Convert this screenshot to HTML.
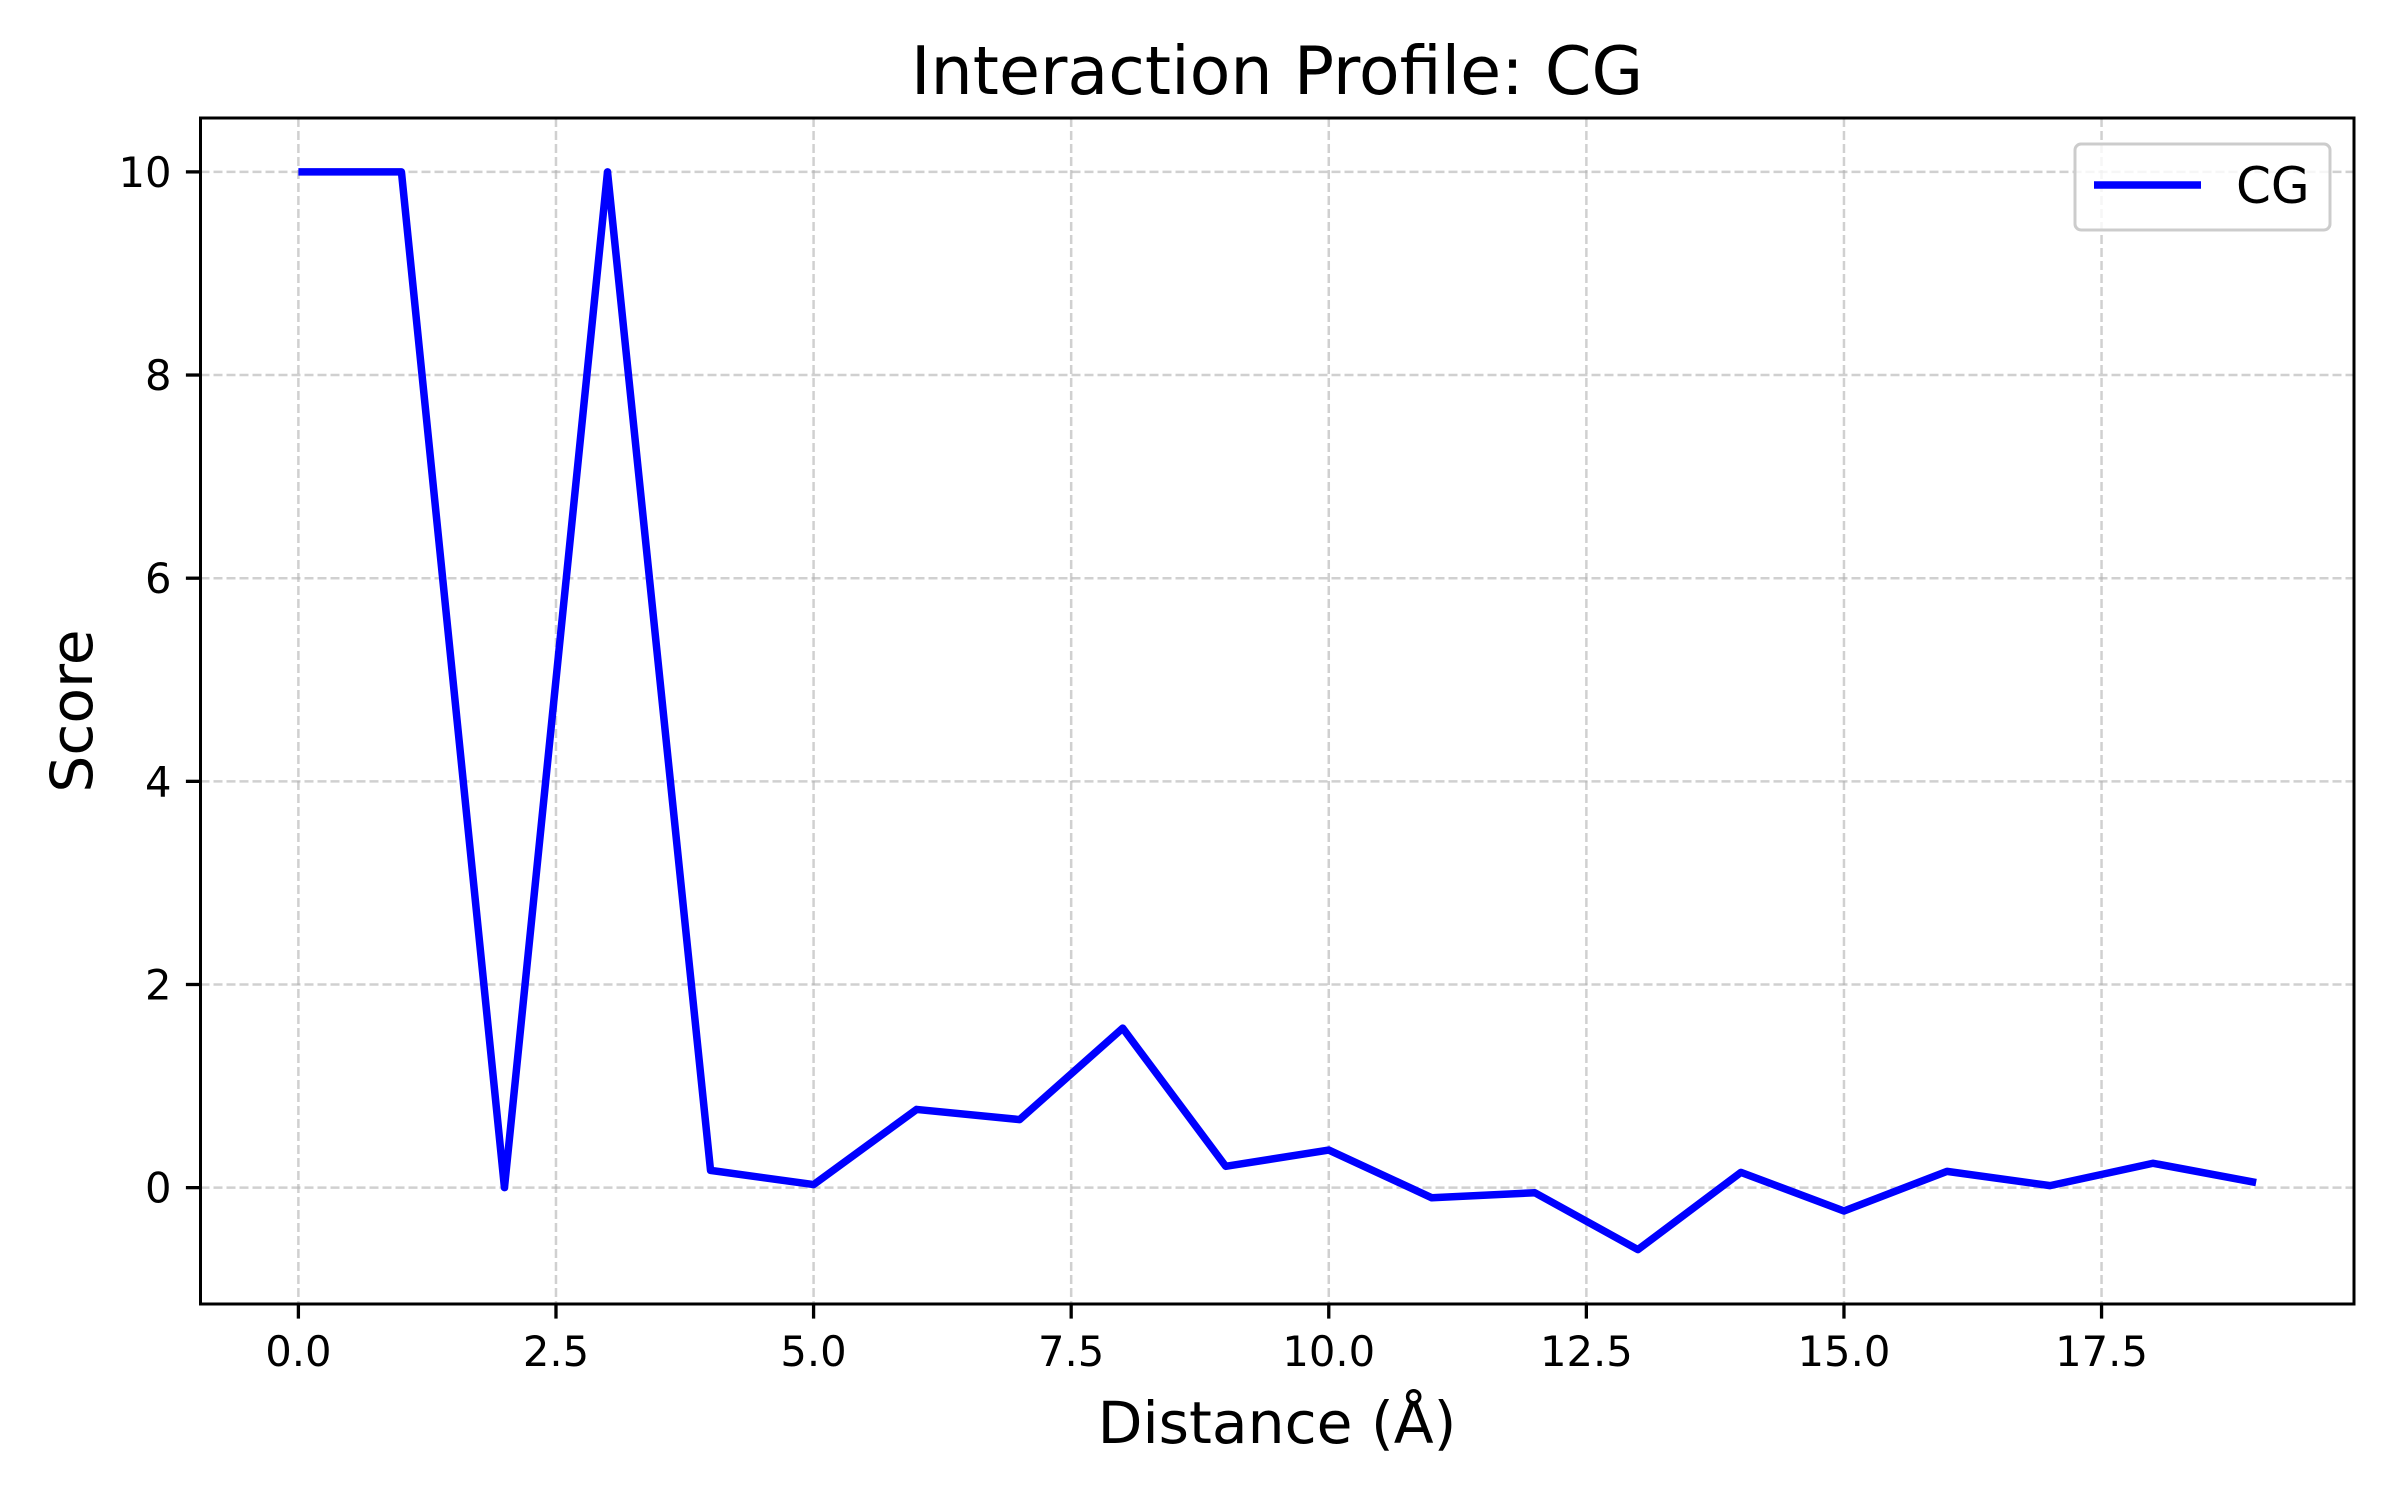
<!DOCTYPE html>
<html><head><meta charset="utf-8"><style>
html,body{margin:0;padding:0;background:#fff;}
svg{display:block;font-family:"DejaVu Sans","Liberation Sans",sans-serif;}
</style></head><body>
<svg id="chart" width="2400" height="1500" viewBox="0 0 2400 1500" xmlns="http://www.w3.org/2000/svg">
<rect width="2400" height="1500" fill="#fff"/>
<text x="1277" y="94" font-size="66.7" text-anchor="middle">Interaction Profile: CG</text>
<g id="grid"></g>
<g id="series"></g>
<rect x="200.5" y="118" width="2153.5" height="1186" fill="none" stroke="#000" stroke-width="3"/>
<g id="ticks"></g>
<text x="1277" y="1443" font-size="58.3" text-anchor="middle">Distance (Å)</text>
<text transform="translate(92,711) rotate(-90)" font-size="58.3" text-anchor="middle">Score</text>
<g>
<rect x="2075" y="144" width="255" height="86" rx="6" fill="#fff" fill-opacity="0.8" stroke="#ccc" stroke-width="3"/>
<line x1="2094" y1="185" x2="2201" y2="185" stroke="#0000ff" stroke-width="7.5"/>
<text x="2236" y="203" font-size="50">CG</text>
</g>
</svg>
<script>
const xValues = [0,1,2,3,4,5,6,7,8,9,10,11,12,13,14,15,16,17,18,19];
const scores = [10,10,0,10,0.17,0.03,0.77,0.67,1.57,0.21,0.37,-0.1,-0.05,-0.61,0.15,-0.23,0.16,0.02,0.24,0.05];
const xTicks = [0,2.5,5,7.5,10,12.5,15,17.5];
const xTickLabels = ["0.0","2.5","5.0","7.5","10.0","12.5","15.0","17.5"];
const yTicks = [0,2,4,6,8,10];
const yTickLabels = ["0","2","4","6","8","10"];

const L=200.5,R=2354,T=118,B=1304;
const xmin=-0.95,xmax=19.95,ymin=-1.1455,ymax=10.5305;
const xs=v=>L+(v-xmin)/(xmax-xmin)*(R-L);
const ys=v=>B-(v-ymin)/(ymax-ymin)*(B-T);
const NS="http://www.w3.org/2000/svg";
function mk(tag,attrs,parent){const e=document.createElementNS(NS,tag);for(const k in attrs)e.setAttribute(k,attrs[k]);parent.appendChild(e);return e;}
const grid=document.getElementById('grid'),ticks=document.getElementById('ticks'),series=document.getElementById('series');
xTicks.forEach((t,i)=>{
  const x=xs(t);
  const g=mk('line',{x1:x,y1:T,x2:x,y2:B,stroke:'#b0b0b0','stroke-opacity':0.6,'stroke-width':2.5,'stroke-dasharray':'9,4'},grid);
  
  
  const tk=mk('line',{x1:x,y1:B,x2:x,y2:B+14.6,stroke:'#000','stroke-width':3.3},ticks);
  
  
  const tx=mk('text',{x:x,y:B+62,'font-size':41.7,'text-anchor':'middle'},ticks);
  tx.textContent=xTickLabels[i];
  
  
});
yTicks.forEach((t,i)=>{
  const y=ys(t);
  const g=mk('line',{x1:L,y1:y,x2:R,y2:y,stroke:'#b0b0b0','stroke-opacity':0.6,'stroke-width':2.5,'stroke-dasharray':'9,4'},grid);
  
  
  const tk=mk('line',{x1:L-14.6,y1:y,x2:L,y2:y,stroke:'#000','stroke-width':3.3},ticks);
  
  
  const tx=mk('text',{x:L-29,y:y+15,'font-size':41.7,'text-anchor':'end'},ticks);
  tx.textContent=yTickLabels[i];
  
  
});
const pts=xValues.map((v,i)=>xs(v)+','+ys(scores[i])).join(' ');
const pl=mk('polyline',{points:pts,fill:'none',stroke:'#0000ff','stroke-width':7.5,'stroke-linejoin':'round'},series);


</script>
</body></html>
